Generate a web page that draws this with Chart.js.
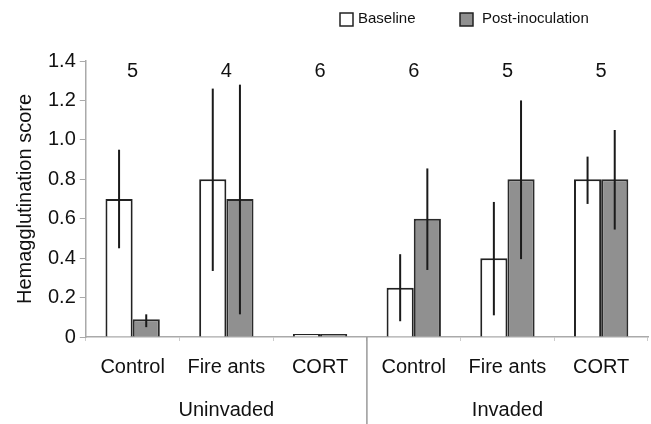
<!DOCTYPE html>
<html>
<head>
<meta charset="utf-8">
<script src="https://cdn.jsdelivr.net/npm/chart.js@4/dist/chart.umd.min.js"></script>
<style>
  body { margin: 0; background: #fff; }
  #wrap { width: 651px; height: 424px; }
</style>
</head>
<body>
<div id="wrap"><canvas id="c"></canvas></div>
<script>
// data
var categories = ["Control", "Fire ants", "CORT", "Control", "Fire ants", "CORT"];
var groups = ["Uninvaded", "Invaded"];
var sampleSizes = ["5", "4", "6", "6", "5", "5"];

var baseline = [0.70, 0.80, 0, 0.25, 0.40, 0.80];
var baselineLow = [0.45, 0.335, 0, 0.08, 0.11, 0.675];
var baselineHigh = [0.95, 1.26, 0, 0.42, 0.685, 0.915];

var postInoc = [0.09, 0.70, 0, 0.60, 0.80, 0.80];
var postLow = [0.05, 0.115, 0, 0.34, 0.395, 0.545];
var postHigh = [0.115, 1.28, 0, 0.855, 1.20, 1.05];

var FONT = "'Liberation Sans', Arial, sans-serif";

var errorBars = {
  id: "errorBars",
  afterDatasetsDraw: function (chart) {
    var ctx = chart.ctx;
    var y = chart.scales.y;
    var lows = [baselineLow, postLow];
    var highs = [baselineHigh, postHigh];
    ctx.save();
    ctx.strokeStyle = "#1a1a1a";
    ctx.lineWidth = 2;
    for (var d = 0; d < 2; d++) {
      chart.getDatasetMeta(d).data.forEach(function (bar, i) {
        if (highs[d][i] === lows[d][i]) return;
        ctx.beginPath();
        ctx.moveTo(bar.x, y.getPixelForValue(lows[d][i]));
        ctx.lineTo(bar.x, y.getPixelForValue(highs[d][i]));
        ctx.stroke();
      });
    }
    ctx.restore();
  }
};

var extras = {
  id: "extras",
  afterDraw: function (chart) {
    var ctx = chart.ctx;
    var x = chart.scales.x;
    var y = chart.scales.y;
    var area = chart.chartArea;
    ctx.save();
    // sample sizes
    ctx.fillStyle = "#111";
    ctx.font = "20px " + FONT;
    ctx.textAlign = "center";
    ctx.textBaseline = "middle";
    sampleSizes.forEach(function (n, i) {
      ctx.fillText(n, x.getPixelForValue(i), y.getPixelForValue(1.4) + 10);
    });
    // separator between groups
    var sep = (x.getPixelForValue(2) + x.getPixelForValue(3)) / 2;
    ctx.strokeStyle = "#999";
    ctx.lineWidth = 1.5;
    ctx.beginPath();
    ctx.moveTo(sep, area.bottom);
    ctx.lineTo(sep, chart.height);
    ctx.stroke();
    // group labels
    ctx.font = "20px " + FONT;
    ctx.fillText(groups[0], x.getPixelForValue(1), 410);
    ctx.fillText(groups[1], x.getPixelForValue(4), 410);
    // legend
    ctx.font = "15px " + FONT;
    ctx.textAlign = "left";
    ctx.lineWidth = 1.5;
    ctx.strokeStyle = "#222";
    ctx.fillStyle = "#fff";
    ctx.fillRect(340, 13, 13, 13);
    ctx.strokeRect(340, 13, 13, 13);
    ctx.fillStyle = "#909090";
    ctx.fillRect(460, 13, 13, 13);
    ctx.strokeRect(460, 13, 13, 13);
    ctx.fillStyle = "#111";
    ctx.fillText("Baseline", 358, 19);
    ctx.fillText("Post-inoculation", 482, 19);
    ctx.restore();
  }
};

new Chart(document.getElementById("c"), {
  type: "bar",
  data: {
    labels: categories,
    datasets: [{
      label: "Baseline",
      data: baseline,
      backgroundColor: "#ffffff",
      borderColor: "#222222",
      borderWidth: 2,
      minBarLength: 3
    }, {
      label: "Post-inoculation",
      data: postInoc,
      backgroundColor: "#909090",
      borderColor: "#2a2a2a",
      borderWidth: 2,
      minBarLength: 3
    }]
  },
  options: {
    responsive: true,
    maintainAspectRatio: false,
    animation: false,
    categoryPercentage: 0.58,
    barPercentage: 1.0,
    layout: { padding: { top: 61, right: 3, bottom: 31, left: 11 } },
    plugins: {
      legend: { display: false },
      tooltip: { enabled: false }
    },
    scales: {
      x: {
        grid: { drawOnChartArea: false, tickLength: 4, color: "#ccc" },
        border: { color: "#aaa", width: 1.5 },
        ticks: { color: "#111", font: { family: FONT, size: 20 }, padding: 14 }
      },
      y: {
        min: 0,
        max: 1.4,
        ticks: {
          stepSize: 0.2,
          color: "#111",
          font: { family: FONT, size: 20 },
          padding: 4,
          callback: function (v) { return v === 0 ? "0" : v.toFixed(1); }
        },
        grid: { drawOnChartArea: false, tickLength: 6, color: "#aaa" },
        border: { color: "#aaa", width: 1.5 },
        title: {
          display: true,
          text: "Hemagglutination score",
          color: "#111",
          font: { family: FONT, size: 20 },
          padding: { top: 2, bottom: 7 }
        }
      }
    }
  },
  plugins: [errorBars, extras]
});
</script>
</body>
</html>
